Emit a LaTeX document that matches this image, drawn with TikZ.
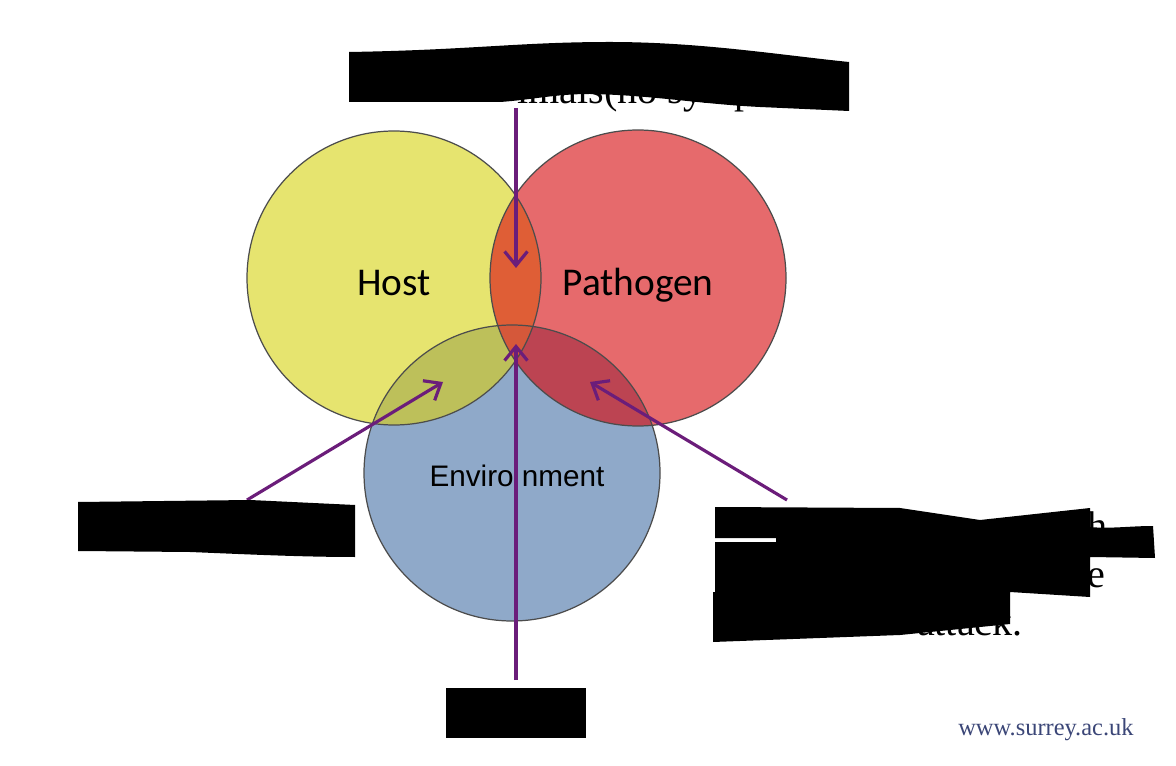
\documentclass[tikz,border=0pt]{standalone}
\usepackage{fontspec}
\usepackage{tikz}
\usetikzlibrary{arrows.meta}
\setmainfont{Liberation Serif}
\newfontfamily\calibri{Carlito}
\newfontfamily\arialfont{Liberation Sans}

\definecolor{hostyellow}{HTML}{E6E46F}
\definecolor{pathred}{HTML}{E66A6C}
\definecolor{envblue}{HTML}{8FA9C9}
\definecolor{hostpath}{HTML}{DF5E36}
\definecolor{hostenv}{HTML}{BDC05A}
\definecolor{pathenv}{HTML}{BC4452}
\definecolor{allthree}{HTML}{D5583A}
\definecolor{arrowpurple}{HTML}{6B1D7A}
\definecolor{surreyblue}{HTML}{3B4677}

\begin{document}
\begin{tikzpicture}[x=0.02cm,y=-0.02cm,
    pointer/.style={draw=arrowpurple,line width=1.8pt,-{Straight Barb[length=8pt,width=13pt]}},
    rim/.style={draw=black!70,line width=0.7pt},
    vennlabel/.style={inner sep=0pt,anchor=base},
    hidden/.style={inner sep=0pt,font=\fontsize{22.8}{27}\selectfont}]
    \useasboundingbox (0,0) rectangle (1176,766);

    % circle centres
    \coordinate (host) at (394,278);
    \coordinate (path) at (638,278);
    \coordinate (env) at (512,473);

    % circles
    \fill[envblue] (env) circle[radius=148];
    \fill[hostyellow] (host) circle[radius=147];
    \fill[pathred] (path) circle[radius=148];

    % overlaps
    \begin{scope}
        \clip (host) circle[radius=147];
        \fill[hostpath] (path) circle[radius=148];
        \fill[hostenv] (env) circle[radius=148];
    \end{scope}
    \begin{scope}
        \clip (path) circle[radius=148];
        \fill[pathenv] (env) circle[radius=148];
    \end{scope}
    \begin{scope}
        \clip (host) circle[radius=147];
        \clip (path) circle[radius=148];
        \fill[allthree] (env) circle[radius=148];
    \end{scope}

    % outlines
    \draw[rim] (env) circle[radius=148];
    \draw[rim] (host) circle[radius=147];
    \draw[rim] (path) circle[radius=148];

    % labels
    \node[vennlabel,font=\calibri\fontsize{22.4}{26}\selectfont] (hostlabel) at (394,296) {Host};
    \node[vennlabel,font=\calibri\fontsize{22.4}{26}\selectfont] (pathlabel) at (638,296) {Pathogen};
    \node[vennlabel,font=\arialfont\fontsize{16.9}{20}\selectfont] (envlabel) at (517,486) {Enviro nment};

    % arrow ends
    \coordinate (topstart) at (516,108);
    \coordinate (topend) at (516,268);
    \coordinate (botstart) at (516,680);
    \coordinate (botend) at (516,344);
    \coordinate (leftstart) at (247,500);
    \coordinate (leftend) at (443,382);
    \coordinate (rightstart) at (787,500);
    \coordinate (rightend) at (590,382);

    % arrows
    \draw[pointer] (topstart) -- (topend);
    \draw[pointer] (botstart) -- (botend);
    \draw[pointer] (leftstart) -- (leftend);
    \draw[pointer] (rightstart) -- (rightend);

    % text under the black bars
    \node[hidden,anchor=base west] (toptext) at (517,104) {imals(no symp};
    \node[hidden,anchor=base west] (rightone) at (1087,539) {h};
    \node[hidden,anchor=base west] (righttwo) at (1087,587) {e};
    \node[hidden,anchor=base east] (rightthree) at (1023,635) {attack.};

    % top bar
    \fill[black] (349,52) -- (349,102) -- (500,102)
        .. controls (530,100) and (555,94) .. (590,94)
        .. controls (650,95) and (700,104) .. (760,107)
        -- (849,111) -- (849,62)
        .. controls (780,55) and (700,42) .. (610,42)
        .. controls (520,42) and (470,50) .. (349,52) -- cycle;

    % left bar
    \fill[black] (78,502) -- (250,500) -- (355,505) -- (355,557)
        .. controls (300,557) and (240,554) .. (190,552) -- (78,551) -- cycle;

    % bottom bar
    \fill[black] (446,688) rectangle (586,738);

    % right bar
    \fill[black] (715,507) -- (900,508) -- (980,520) -- (1090,508) -- (1090,527)
        .. controls (1110,529) and (1130,526) .. (1153,526)
        -- (1155,558) -- (1090,557) -- (1090,597) -- (1010,592) -- (1010,624)
        -- (900,635) -- (713,642) -- (713,592) -- (715,592) -- (715,542)
        -- (776,542) -- (776,538) -- (715,538) -- cycle;

    % website
    \node[inner sep=0pt,anchor=base west,text=surreyblue,font=\fontsize{13.9}{16}\selectfont] (website) at (958,735) {www.surrey.ac.uk};
\end{tikzpicture}
\end{document}
